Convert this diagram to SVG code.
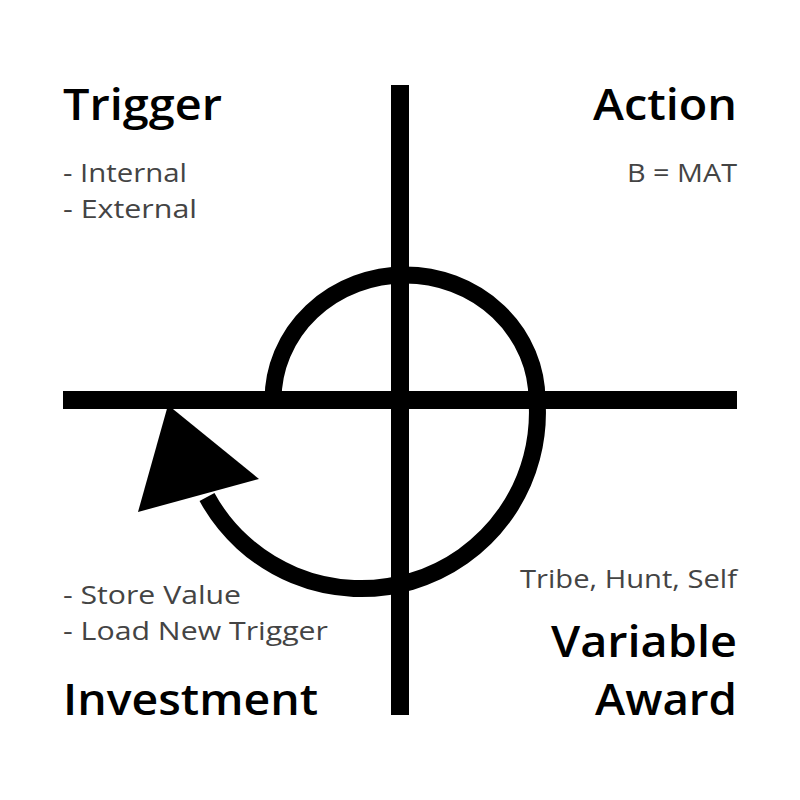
<svg xmlns="http://www.w3.org/2000/svg" width="800" height="800" viewBox="0 0 800 800">
<style>
.t{font-family:"Open Sans",Lato,sans-serif;font-size:43px;font-weight:600;fill:#000}
.s{font-family:"Open Sans",Lato,sans-serif;font-size:26px;fill:#444}
.r{text-anchor:end}
</style>
<rect width="800" height="800" fill="#fff"/>
<g id="connectors">
<line x1="400" y1="85" x2="400" y2="715" stroke="#000" stroke-width="18"/>
<line x1="63" y1="400" x2="737" y2="400" stroke="#000" stroke-width="18"/>
<path d="M273,400 A132,125 0 0 1 537,400 A176,176 0 0 1 207,497" fill="none" stroke="#000" stroke-width="17"/>
<polygon points="168,405 259,479 138,512" fill="#000"/>
</g>
<g id="trigger"><text class="t" x="63" y="120" textLength="159" lengthAdjust="spacingAndGlyphs">Trigger</text>
<text class="s" x="63" y="182" textLength="124" lengthAdjust="spacingAndGlyphs">- Internal</text><text class="s" x="63" y="218" textLength="134" lengthAdjust="spacingAndGlyphs">- External</text></g>
<g id="action"><text class="t r" x="737" y="120" textLength="144" lengthAdjust="spacingAndGlyphs">Action</text>
<text class="s r" x="737" y="182" textLength="110" lengthAdjust="spacingAndGlyphs">B = MAT</text></g>
<g id="award"><text class="s r" x="737" y="588" textLength="217" lengthAdjust="spacingAndGlyphs">Tribe, Hunt, Self</text>
<text class="t r" x="737" y="657" textLength="186" lengthAdjust="spacingAndGlyphs">Variable</text><text class="t r" x="737" y="715" textLength="142" lengthAdjust="spacingAndGlyphs">Award</text></g>
<g id="investment"><text class="s" x="63" y="604" textLength="178" lengthAdjust="spacingAndGlyphs">- Store Value</text><text class="s" x="63" y="640" textLength="265" lengthAdjust="spacingAndGlyphs">- Load New Trigger</text>
<text class="t" x="63" y="715" textLength="255" lengthAdjust="spacingAndGlyphs">Investment</text></g>
</svg>
